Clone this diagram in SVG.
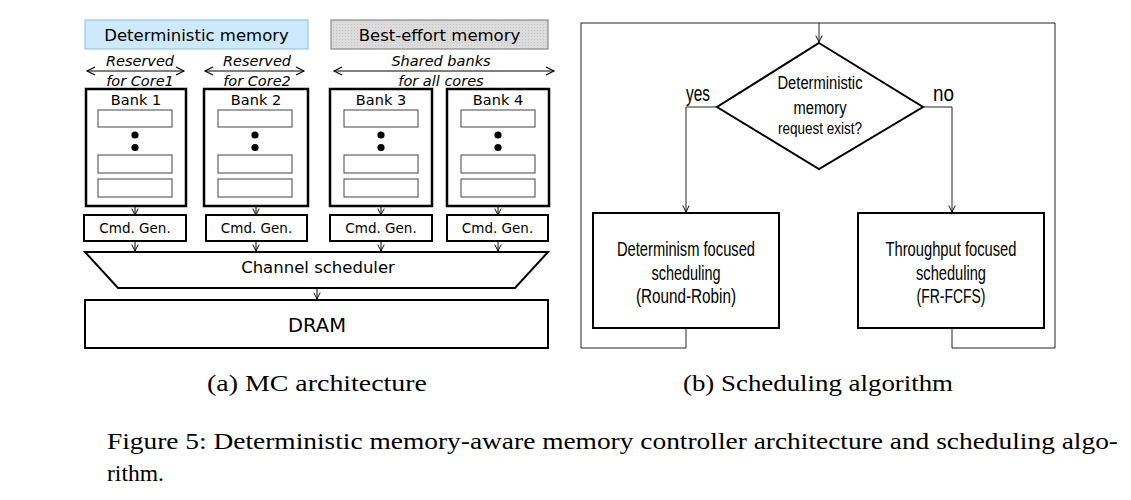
<svg xmlns="http://www.w3.org/2000/svg" width="1131" height="500" viewBox="0 0 1131 500">
<style>
.sans{font-family:"DejaVu Sans","Verdana",sans-serif;fill:#000}
.cal{font-family:"Liberation Sans","Arial",sans-serif;fill:#000}
.serif{font-family:"Liberation Serif","Times New Roman",serif;fill:#000}
.bank{fill:#fff;stroke:#000;stroke-width:2.5}
.inner{fill:#fff;stroke:#444;stroke-width:1}
.box{fill:#fff;stroke:#000;stroke-width:2}
.thin{fill:none;stroke:#000;stroke-width:1}
.flow{fill:none;stroke:#222;stroke-width:1}
</style>
<defs>
<marker id="ah" viewBox="0 0 10 10" refX="9" refY="5" markerWidth="8" markerHeight="8" markerUnits="userSpaceOnUse" orient="auto-start-reverse">
<path d="M1,1 L9,5 L1,9" fill="none" stroke="#000" stroke-width="1.2"/>
</marker>
<marker id="ahw" viewBox="0 0 10 10" refX="9" refY="5" markerWidth="12" markerHeight="10" markerUnits="userSpaceOnUse" orient="auto-start-reverse">
<path d="M1,1 L9,5 L1,9" fill="none" stroke="#000" stroke-width="1.1"/>
</marker>
<pattern id="dots" width="3" height="3" patternUnits="userSpaceOnUse">
<rect width="3" height="3" fill="#dcdcdc"/>
<rect width="1" height="1" fill="#c4c4c4"/>
</pattern>
</defs>

<!-- (a) MC architecture -->
<g id="det-mem">
<rect x="85" y="20" width="223" height="29" fill="#cde9fb" stroke="#9cc8e6" stroke-width="1.2"/>
<text class="sans" x="196.5" y="41" font-size="16.5" text-anchor="middle">Deterministic memory</text>
</g>
<g id="be-mem">
<rect x="331" y="20" width="217" height="29" fill="url(#dots)" stroke="#8a8a8a" stroke-width="1.2"/>
<text class="sans" x="439.5" y="41" font-size="16.5" text-anchor="middle">Best-effort memory</text>
</g>

<g id="label-core1">
<text class="sans" x="140" y="66" font-size="14.5" font-style="italic" text-anchor="middle">Reserved</text>
<text class="sans" x="140" y="86" font-size="14.5" font-style="italic" text-anchor="middle">for Core1</text>
</g>
<g id="label-core2">
<text class="sans" x="257" y="66" font-size="14.5" font-style="italic" text-anchor="middle">Reserved</text>
<text class="sans" x="257" y="86" font-size="14.5" font-style="italic" text-anchor="middle">for Core2</text>
</g>
<g id="label-shared">
<text class="sans" x="441" y="66" font-size="14.5" font-style="italic" text-anchor="middle">Shared banks</text>
<text class="sans" x="441" y="86" font-size="14.5" font-style="italic" text-anchor="middle">for all cores</text>
</g>

<g id="bank1">
<rect class="bank" x="86" y="89" width="100" height="117"/>
<text class="sans" x="136" y="105" font-size="14.5" text-anchor="middle">Bank 1</text>
<rect class="inner" x="98" y="110" width="74" height="17"/>
<circle cx="135" cy="135" r="3.6"/><circle cx="135" cy="147.5" r="3.6"/>
<rect class="inner" x="98" y="155" width="74" height="18"/>
<rect class="inner" x="98" y="179" width="74" height="18"/>
</g>
<g id="bank2">
<rect class="bank" x="204" y="89" width="104" height="117"/>
<text class="sans" x="256" y="105" font-size="14.5" text-anchor="middle">Bank 2</text>
<rect class="inner" x="218" y="110" width="74" height="17"/>
<circle cx="255" cy="135" r="3.6"/><circle cx="255" cy="147.5" r="3.6"/>
<rect class="inner" x="218" y="155" width="74" height="18"/>
<rect class="inner" x="218" y="179" width="74" height="18"/>
</g>
<g id="bank3">
<rect class="bank" x="330" y="89" width="102" height="117"/>
<text class="sans" x="381" y="105" font-size="14.5" text-anchor="middle">Bank 3</text>
<rect class="inner" x="344" y="110" width="74" height="17"/>
<circle cx="381" cy="135" r="3.6"/><circle cx="381" cy="147.5" r="3.6"/>
<rect class="inner" x="344" y="155" width="74" height="18"/>
<rect class="inner" x="344" y="179" width="74" height="18"/>
</g>
<g id="bank4">
<rect class="bank" x="447" y="89" width="102" height="117"/>
<text class="sans" x="498" y="105" font-size="14.5" text-anchor="middle">Bank 4</text>
<rect class="inner" x="461" y="110" width="74" height="17"/>
<circle cx="498" cy="135" r="3.6"/><circle cx="498" cy="147.5" r="3.6"/>
<rect class="inner" x="461" y="155" width="74" height="18"/>
<rect class="inner" x="461" y="179" width="74" height="18"/>
</g>

<g id="cmd1"><rect class="box" x="84" y="215" width="102" height="26"/><text class="sans" x="135" y="233" font-size="13.5" text-anchor="middle">Cmd. Gen.</text></g>
<g id="cmd2"><rect class="box" x="206" y="215" width="101" height="26"/><text class="sans" x="256.5" y="233" font-size="13.5" text-anchor="middle">Cmd. Gen.</text></g>
<g id="cmd3"><rect class="box" x="330" y="215" width="102" height="26"/><text class="sans" x="381" y="233" font-size="13.5" text-anchor="middle">Cmd. Gen.</text></g>
<g id="cmd4"><rect class="box" x="447" y="215" width="101" height="26"/><text class="sans" x="497.5" y="233" font-size="13.5" text-anchor="middle">Cmd. Gen.</text></g>

<g id="channel-scheduler">
<polygon class="box" points="85,252 548,252 515,288 118,288"/>
<text class="sans" x="318" y="273" font-size="16.5" text-anchor="middle">Channel scheduler</text>
</g>
<g id="dram">
<rect class="box" x="85" y="300" width="463" height="48"/>
<text class="sans" x="317" y="332" font-size="19.5" text-anchor="middle">DRAM</text>
</g>

<!-- (b) Scheduling algorithm -->
<g id="decision">
<polygon points="819,43 923,107 819,169 717,107" fill="#fff" stroke="#000" stroke-width="2"/>
<text class="cal" x="820" y="89" font-size="18" text-anchor="middle" textLength="85" lengthAdjust="spacingAndGlyphs">Deterministic</text>
<text class="cal" x="820" y="113.5" font-size="18" text-anchor="middle" textLength="53" lengthAdjust="spacingAndGlyphs">memory</text>
<text class="cal" x="820" y="134" font-size="16" text-anchor="middle" textLength="84" lengthAdjust="spacingAndGlyphs">request exist?</text>
</g>
<g id="det-sched">
<rect class="box" x="593" y="213" width="186" height="115"/>
<text class="cal" x="686" y="256" font-size="19.5" text-anchor="middle" textLength="138" lengthAdjust="spacingAndGlyphs">Determinism focused</text>
<text class="cal" x="686" y="279.5" font-size="19.5" text-anchor="middle" textLength="69" lengthAdjust="spacingAndGlyphs">scheduling</text>
<text class="cal" x="686" y="302.5" font-size="19.5" text-anchor="middle" textLength="100" lengthAdjust="spacingAndGlyphs">(Round-Robin)</text>
</g>
<g id="thr-sched">
<rect class="box" x="858" y="213" width="186" height="115"/>
<text class="cal" x="951" y="256" font-size="19.5" text-anchor="middle" textLength="131" lengthAdjust="spacingAndGlyphs">Throughput focused</text>
<text class="cal" x="951" y="279.5" font-size="19.5" text-anchor="middle" textLength="70" lengthAdjust="spacingAndGlyphs">scheduling</text>
<text class="cal" x="951" y="302.5" font-size="19.5" text-anchor="middle" textLength="69" lengthAdjust="spacingAndGlyphs">(FR-FCFS)</text>
</g>
<g id="edge-labels">
<text class="cal" x="698" y="100.5" font-size="22" text-anchor="middle" textLength="24" lengthAdjust="spacingAndGlyphs">yes</text>
<text class="cal" x="943.5" y="100.5" font-size="22" text-anchor="middle" textLength="21" lengthAdjust="spacingAndGlyphs">no</text>
</g>

<g id="connectors">
<!-- span arrows -->
<line class="thin" x1="87" y1="71" x2="184" y2="71" marker-start="url(#ahw)" marker-end="url(#ahw)"/>
<line class="thin" x1="205" y1="71" x2="304" y2="71" marker-start="url(#ahw)" marker-end="url(#ahw)"/>
<line class="thin" x1="334" y1="71" x2="554" y2="71" marker-start="url(#ahw)" marker-end="url(#ahw)"/>
<!-- bank to cmd -->
<line class="thin" x1="135" y1="206" x2="135" y2="215" marker-end="url(#ah)"/>
<line class="thin" x1="256" y1="206" x2="256" y2="215" marker-end="url(#ah)"/>
<line class="thin" x1="381" y1="206" x2="381" y2="215" marker-end="url(#ah)"/>
<line class="thin" x1="498" y1="206" x2="498" y2="215" marker-end="url(#ah)"/>
<!-- cmd to scheduler -->
<line class="thin" x1="135" y1="241" x2="135" y2="251" marker-end="url(#ah)"/>
<line class="thin" x1="256" y1="241" x2="256" y2="251" marker-end="url(#ah)"/>
<line class="thin" x1="381" y1="241" x2="381" y2="251" marker-end="url(#ah)"/>
<line class="thin" x1="498" y1="241" x2="498" y2="251" marker-end="url(#ah)"/>
<!-- scheduler to DRAM -->
<line class="thin" x1="317" y1="288" x2="317" y2="299" marker-end="url(#ah)"/>
<!-- flowchart -->
<polyline class="flow" points="686,328 686,348 581,348 581,23 1055,23 1055,348 952,348 952,328"/>
<line class="flow" x1="819" y1="23" x2="819" y2="42" marker-end="url(#ah)"/>
<polyline class="flow" points="717,107 686,107 686,212" marker-end="url(#ah)"/>
<polyline class="flow" points="923,107 952,107 952,212" marker-end="url(#ah)"/>
</g>

<g id="captions">
<text class="serif" x="317" y="391" font-size="23" text-anchor="middle" textLength="220" lengthAdjust="spacingAndGlyphs">(a) MC architecture</text>
<text class="serif" x="818" y="391" font-size="23" text-anchor="middle" textLength="270" lengthAdjust="spacingAndGlyphs">(b) Scheduling algorithm</text>
<text class="serif" x="107" y="449" font-size="24" textLength="1011" lengthAdjust="spacingAndGlyphs">Figure 5: Deterministic memory-aware memory controller architecture and scheduling algo-</text>
<text class="serif" x="107" y="481" font-size="24" textLength="57" lengthAdjust="spacingAndGlyphs">rithm.</text>
</g>
</svg>
